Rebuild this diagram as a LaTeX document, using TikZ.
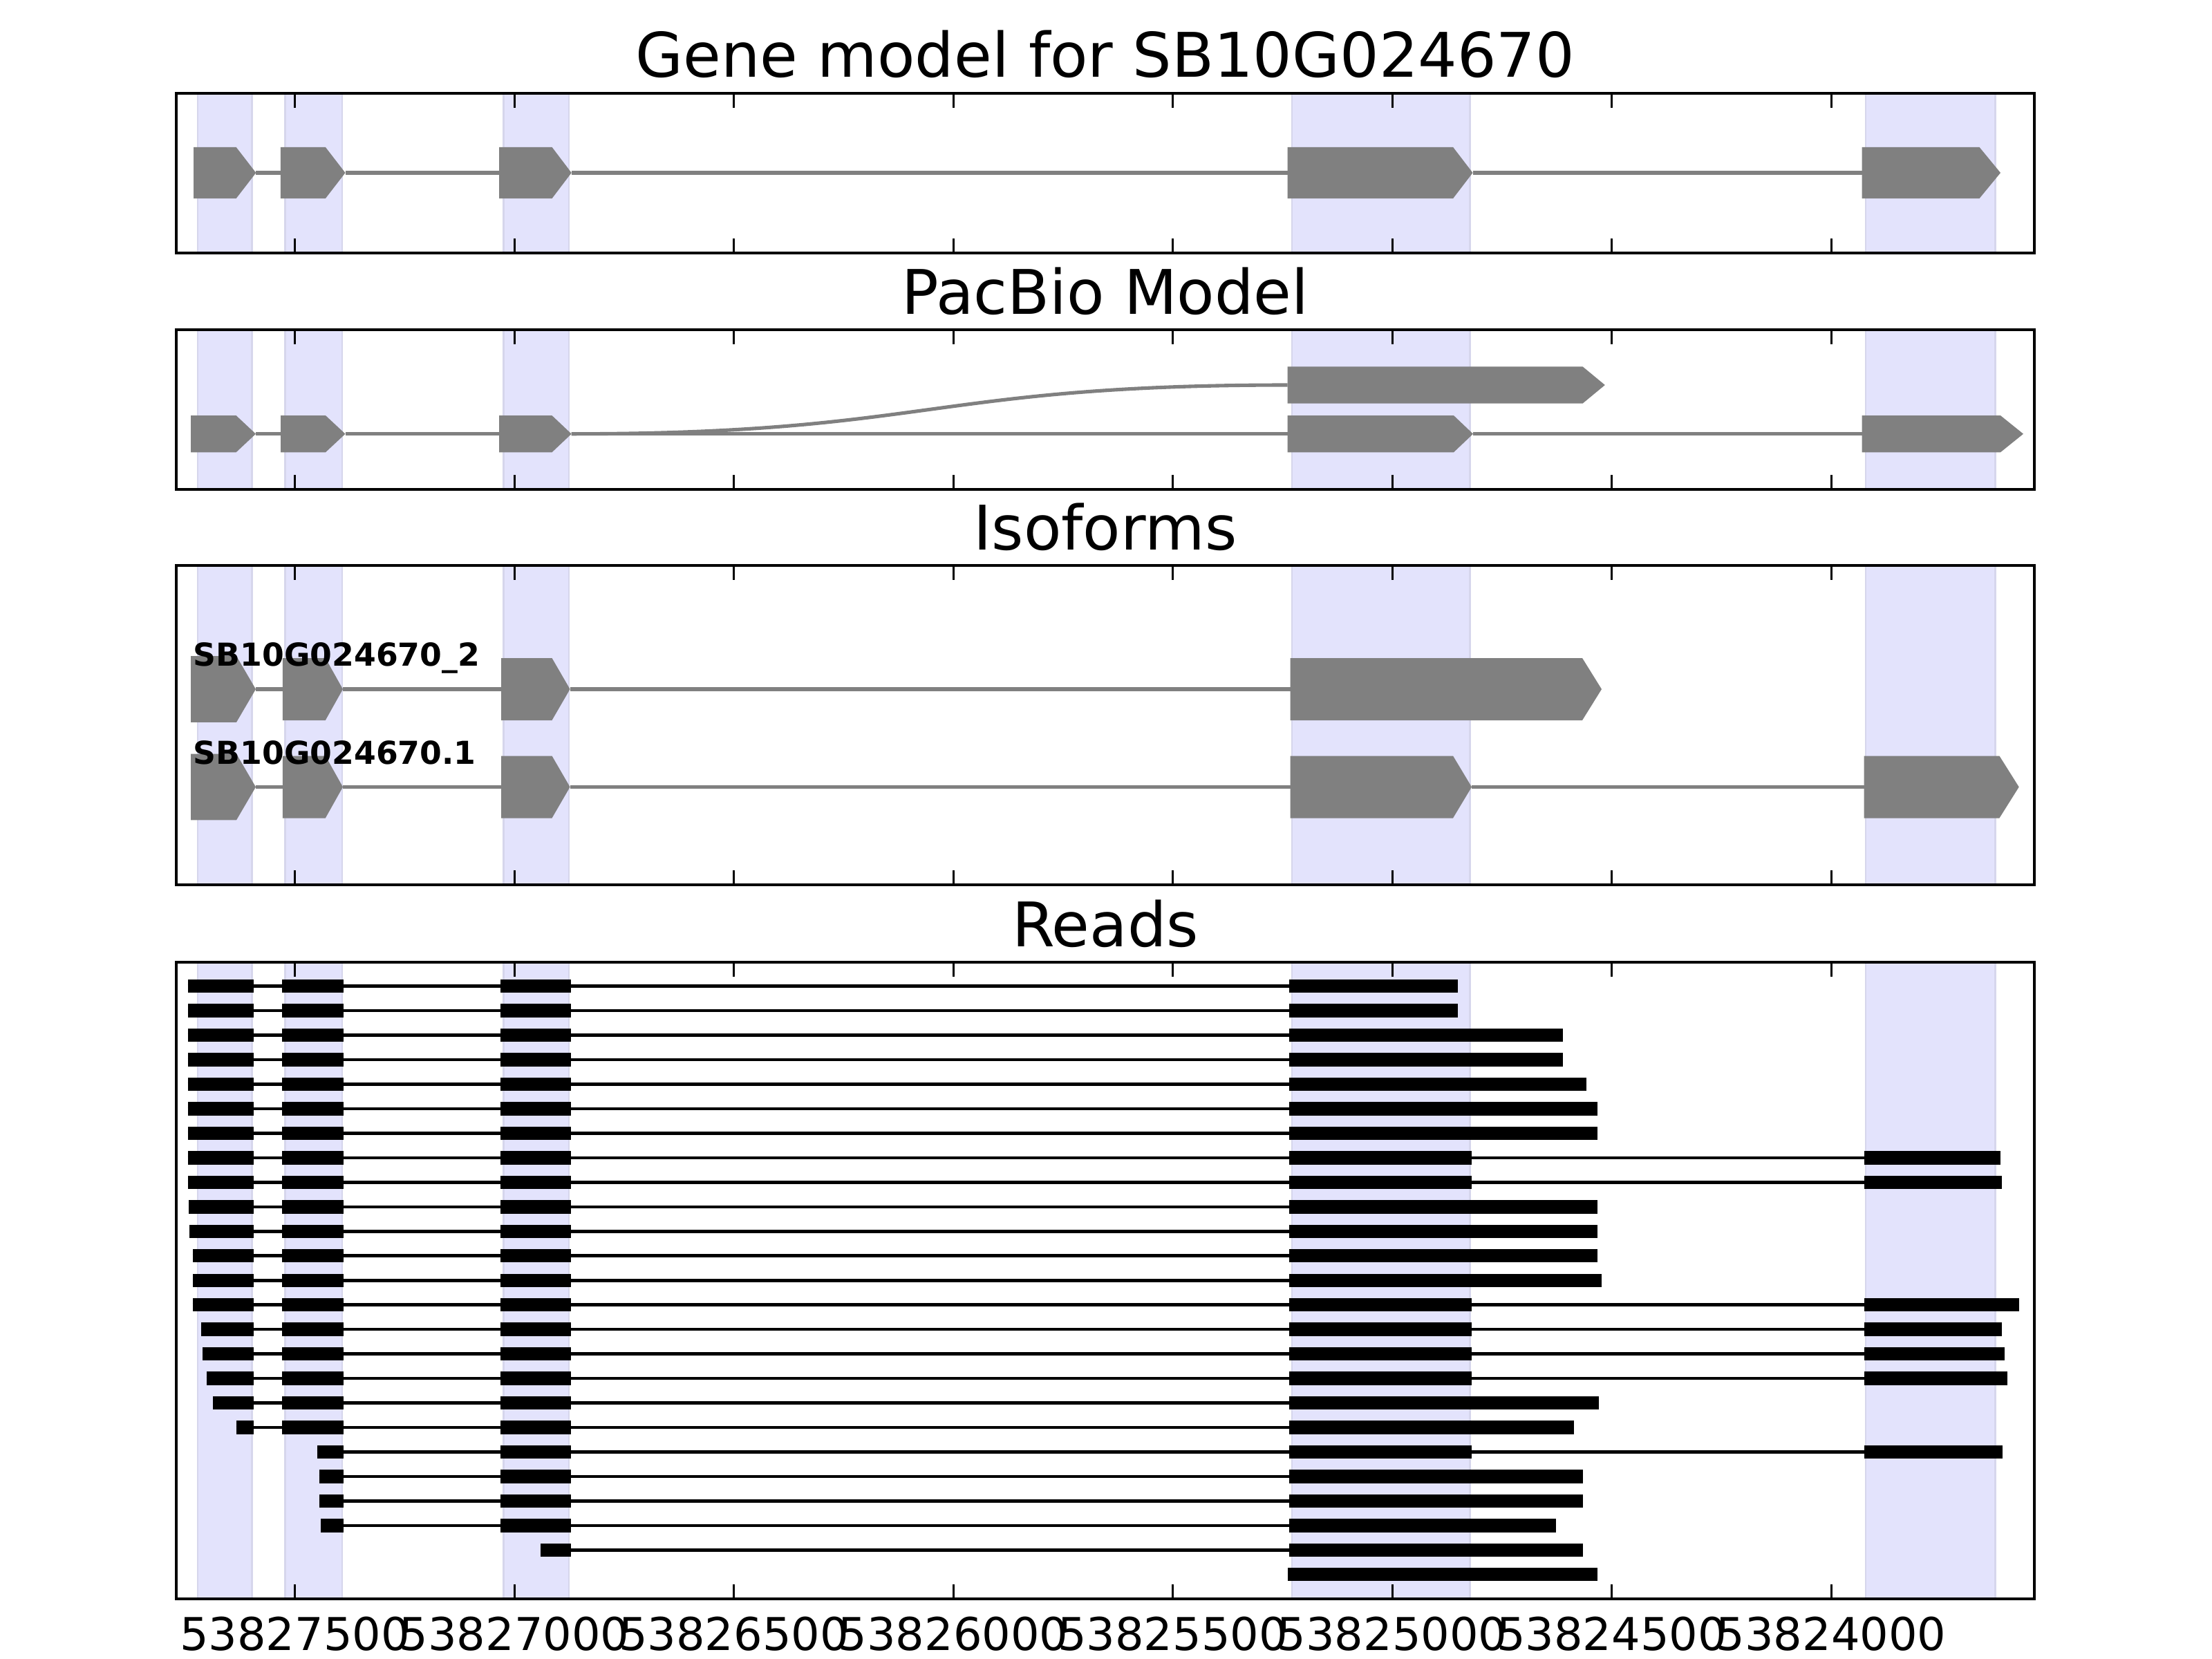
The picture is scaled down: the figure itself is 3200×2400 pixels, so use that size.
\documentclass[tikz,border=0pt]{standalone}
\usepackage{fontspec}
\setmainfont{DejaVu Sans}
\definecolor{exongray}{RGB}{128,128,128}
\definecolor{bandfill}{RGB}{227,227,252}
\definecolor{bandedge}{RGB}{214,214,236}
\tikzset{
  exon/.style={fill=exongray},
  intron/.style={draw=exongray, line width=1.45pt},
  readexon/.style={fill=black},
  readline/.style={draw=black, line width=1.3pt},
  frame/.style={draw=black, line width=1.3pt},
  tickmark/.style={draw=black, line width=0.8pt},
  band/.style={fill=bandfill, draw=bandedge, line width=0.8pt},
  paneltitle/.style={font=\fontsize{25.3}{30}\selectfont, anchor=base, inner sep=0pt},
  ticklabel/.style={font=\fontsize{18.6}{22}\selectfont, anchor=base, inner sep=0pt},
  isolabel/.style={font=\fontsize{13}{15}\selectfont\bfseries, anchor=base west, inner sep=0pt},
}
% pentagon exon: start, body end, tip, centre y, half height
\newcommand\pentexon[5]{\fill[exon] (#1,{#4-#5}) -- (#2,{#4-#5}) -- (#3,#4) -- (#2,{#4+#5}) -- (#1,{#4+#5}) -- cycle;}
% panel background: top, bottom
\newcommand\panelbg[2]{%
  \foreach \a/\b in {286/364.6, 412.8/495, 728.5/823, 1868.9/2126.7, 2699/2886.6}
    {\filldraw[band] (\a,#1) rectangle (\b,#2);}
  \foreach \t in {426.6, 744.1, 1061.6, 1379.1, 1696.6, 2014.1, 2331.6, 2649.1}
    {\draw[tickmark] (\t,#1) -- ++(0,20.7); \draw[tickmark] (\t,#2) -- ++(0,-20.7);}
}
\newcommand\rbox[3]{\fill[readexon] (#1,{#3-9.7}) rectangle (#2,{#3+9.7});}
\begin{document}
\begin{tikzpicture}[x=0.01cm, y=-0.01cm]
\useasboundingbox (0,0) rectangle (3200,2400);
\fill[white] (0,0) rectangle (3200,2400);

% ---------------- Panel 1: gene model ----------------
\node[paneltitle] (t1) at (1599,112) {Gene model for SB10G024670};
\panelbg{135}{366}
\draw[intron] (370.3,250) -- (405.9,250);
\draw[intron] (499.5,250) -- (722,250);
\draw[intron] (826.7,250) -- (1862.7,250);
\draw[intron] (2130.5,250) -- (2693.6,250);
\pentexon{280}{341.6}{370.3}{250}{37.2}
\pentexon{405.9}{470.8}{499.5}{250}{37.2}
\pentexon{722}{798.5}{826.7}{250}{37.2}
\pentexon{1862.7}{2102}{2130.5}{250}{37.2}
\pentexon{2693.6}{2863.4}{2894}{250}{37.2}
\draw[frame] (255,135) rectangle (2943,366);

% ---------------- Panel 2: PacBio model ----------------
\node[paneltitle] (t2) at (1599,454) {PacBio Model};
\panelbg{477}{708}
\draw[intron] (370,627.7) -- (406,627.7);
\draw[intron] (499.5,627.7) -- (722,627.7);
\draw[intron] (826.7,627.7) -- (1862.7,627.7);
\draw[intron] (826.7,627.7) .. controls (1345,627.7) and (1345,557) .. (1862.7,557);
\draw[intron] (2131,627.7) -- (2693.6,627.7);
\pentexon{276}{341.6}{370}{627.7}{26.6}
\pentexon{406}{471}{499.5}{627.7}{26.6}
\pentexon{722}{798.5}{826.7}{627.7}{26.6}
\pentexon{1862.7}{2103}{2131}{627.7}{26.6}
\pentexon{2693.6}{2894}{2927}{627.7}{26.6}
\pentexon{1862.7}{2289.6}{2321.8}{557}{26.6}
\draw[frame] (255,477) rectangle (2943,708);

% ---------------- Panel 3: isoforms ----------------
\node[paneltitle] (t3) at (1599,795) {Isoforms};
\panelbg{818}{1280}
% isoform _2
\draw[intron] (370,997) -- (408.8,997);
\draw[intron] (496,997) -- (725,997);
\draw[intron] (824.6,997) -- (1866.6,997);
\pentexon{276}{342}{370}{997}{47.9}
\pentexon{408.8}{470.8}{496}{997}{45}
\pentexon{725}{798.5}{824.6}{997}{45}
\pentexon{1866.6}{2289}{2317}{997}{45}
% isoform .1
\draw[intron] (370,1138.5) -- (408.8,1138.5);
\draw[intron] (496,1138.5) -- (725,1138.5);
\draw[intron] (824.6,1138.5) -- (1866.6,1138.5);
\draw[intron] (2129,1138.5) -- (2696.6,1138.5);
\pentexon{276}{342}{370}{1138.5}{47.9}
\pentexon{408.8}{470.8}{496}{1138.5}{45}
\pentexon{725}{798.5}{824.6}{1138.5}{45}
\pentexon{1866.6}{2102}{2129}{1138.5}{45}
\pentexon{2696.6}{2892.4}{2920.7}{1138.5}{45}
\node[isolabel] (l2) at (279,963) {SB10G024670\_2};
\node[isolabel] (l1) at (279,1105) {SB10G024670.1};
\draw[frame] (255,818) rectangle (2943,1280);

% ---------------- Panel 4: reads ----------------
\node[paneltitle] (t4) at (1599,1369) {Reads};
\panelbg{1392}{2313}
% exon1 .. exon4
\foreach \i/\s/\e in {0/271.6/2109, 1/271.6/2109, 2/271.6/2260.6, 3/271.6/2260.6,
    4/271.6/2295, 5/271.6/2311, 6/271.6/2311, 9/273.3/2311, 10/274.4/2311,
    11/278.5/2311, 12/278.5/2317, 17/308.3/2312.6, 18/341.6/2276.6}{
  \pgfmathsetmacro\y{1426.7+35.46*\i}
  \draw[readline] (\s,\y) -- (1865,\y);
  \rbox{\s}{367.4}{\y}\rbox{408.2}{497.2}{\y}\rbox{724}{825.5}{\y}\rbox{1865}{\e}{\y}
}
% exon1 .. exon5
\foreach \i/\s/\e in {7/271.6/2894, 8/271.6/2895.6, 13/278.5/2920.7,
    14/290.5/2895.6, 15/292.8/2900, 16/298.5/2904}{
  \pgfmathsetmacro\y{1426.7+35.46*\i}
  \draw[readline] (\s,\y) -- (2696.6,\y);
  \rbox{\s}{367.4}{\y}\rbox{408.2}{497.2}{\y}\rbox{724}{825.5}{\y}\rbox{1865}{2129}{\y}\rbox{2696.6}{\e}{\y}
}
% exon2 .. exon5
\foreach \i/\s/\e in {19/458.7/2897}{
  \pgfmathsetmacro\y{1426.7+35.46*\i}
  \draw[readline] (\s,\y) -- (2696.6,\y);
  \rbox{\s}{497.2}{\y}\rbox{724}{825.5}{\y}\rbox{1865}{2129}{\y}\rbox{2696.6}{\e}{\y}
}
% exon2 .. exon4
\foreach \i/\s/\e in {20/461.6/2289.6, 21/461.6/2289.6, 22/464.4/2250.6}{
  \pgfmathsetmacro\y{1426.7+35.46*\i}
  \draw[readline] (\s,\y) -- (1865,\y);
  \rbox{\s}{497.2}{\y}\rbox{724}{825.5}{\y}\rbox{1865}{\e}{\y}
}
% exon3 .. exon4
\foreach \i/\s/\e in {23/781.9/2289.6}{
  \pgfmathsetmacro\y{1426.7+35.46*\i}
  \draw[readline] (\s,\y) -- (1865,\y);
  \rbox{\s}{825.5}{\y}\rbox{1865}{\e}{\y}
}
% exon4 only
\rbox{1862.7}{2311}{2277.7}
\draw[frame] (255,1392) rectangle (2943,2313);

% tick labels
\node[ticklabel] (x1) at (426.6,2387) {53827500};
\node[ticklabel] (x2) at (744.1,2387) {53827000};
\node[ticklabel] (x3) at (1061.6,2387) {53826500};
\node[ticklabel] (x4) at (1379.1,2387) {53826000};
\node[ticklabel] (x5) at (1696.6,2387) {53825500};
\node[ticklabel] (x6) at (2014.1,2387) {53825000};
\node[ticklabel] (x7) at (2331.6,2387) {53824500};
\node[ticklabel] (x8) at (2649.1,2387) {53824000};
\end{tikzpicture}
\end{document}
